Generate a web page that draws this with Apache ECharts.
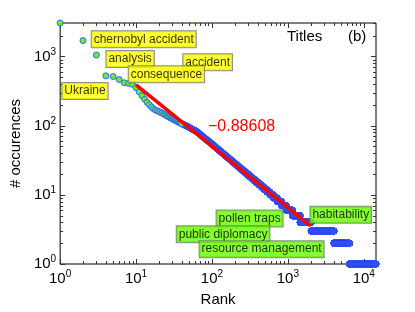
<!DOCTYPE html>
<html><head><meta charset="utf-8">
<script src="https://cdn.jsdelivr.net/npm/echarts@6/dist/echarts.min.js"></script>
<style>html,body{margin:0;padding:0;background:#fff}#c{width:415px;height:312px}</style>
</head><body><div id="c"></div>
<script>
// ---- data ----
// occurrence counts of the 60 top-ranked titles (rank 1..60)
const topCounts = [3050,1700,1050,525,513,465,417,408,395,355,308,270,240,217,200,186,175,168,164,160,
  156,152,148,144,140,137,134,131,128,125,123,121,119,117,115,113,111,110,108,107,
  105,104,103,102,100,99,98,97,96,95,93,92,91,90,89,88,87,86,86,85];
// below rank 60: each count value and the last rank that has that count
const runCounts = [84,83,82,81,80,79,78,77,76,75,74,73,72,71,70,69,68,67,66,65,64,63,62,61,60,
  59,58,57,56,55,54,53,52,51,50,49,48,47,46,45,44,43,42,41,40,39,38,37,36,35,34,33,32,31,30,
  29,28,27,26,25,24,23,22,21,20,19,18,17,16,15,14,13,12,11,10,9,8,7,6,5,4,3,2,1];
const runLastRank = [61,62,63,64,65,66,67,68,69,70,71,72,73,74,75,76,78,79,80,82,83,85,86,88,90,
  91,93,95,97,99,101,103,105,107,110,112,115,117,120,123,126,129,133,136,140,144,148,152,157,162,167,173,179,185,192,
  199,207,215,224,234,245,256,269,284,300,317,336,358,383,412,444,482,528,581,645,725,825,950,1150,1450,2030,4050,6500,14500];
const greenRanks = 40;            // top-ranked points drawn with green face
const fitLine = [[10, 390], [2000, 3.55]];   // power-law fit, slope -0.88608
const fitLabel = '\u22120.88608';
const xMajorTicks = [1, 10, 100, 1000, 10000];
const yMajorTicks = [1, 10, 100, 1000];
const minorSteps = [2, 3, 4, 5, 6, 7, 8, 9];
const xMax = 14500, yMax = 3050;
const yellowNotes = ['chernobyl accident', 'analysis', 'accident', 'consequence', 'Ukraine'];
const yellowRank  = [2.94, 4.60, 47.3, 9.04, 1.206];
const yellowCount = [2313, 1202, 1079, 721, 413];
const greenNotes = ['pollen traps', 'habitability', 'public diplomacy', 'resource management'];
const greenRank  = [130, 2240, 38.8, 77.6];
const greenCount = [5.92, 6.75, 3.50, 2.14];

// ---- build series data ----
const ptsGreen = [], ptsBlue = [];
topCounts.forEach((c, i) => { (i + 1 <= greenRanks ? ptsGreen : ptsBlue).push([i + 1, c]); });
let r = topCounts.length;
runCounts.forEach((c, k) => {
  for (; r < runLastRank[k]; ) { r++; ptsBlue.push([r, c]); }
});
const tickData = [];
xMajorTicks.forEach(v => {
  tickData.push([v, 1, 1]);
  minorSteps.forEach(m => { if (v * m <= xMax) tickData.push([v * m, 1, 0]); });
});
yMajorTicks.forEach(v => {
  tickData.push([1, v, 3]);
  minorSteps.forEach(m => { if (v * m <= yMax) tickData.push([1, v * m, 2]); });
});
const noteData = [];
yellowNotes.forEach((t, i) => noteData.push({ value: [yellowRank[i], yellowCount[i]], name: t, label: { backgroundColor: '#ffff00' } }));
greenNotes.forEach((t, i) => noteData.push({ value: [greenRank[i], greenCount[i]], name: t, label: { backgroundColor: '#66ff00' } }));

const FONT = '"Liberation Sans", Arial, Helvetica, sans-serif';
const isPow = v => Math.abs(Math.log10(v) - Math.round(Math.log10(v))) < 1e-6;
const fmt = v => isPow(v) ? '{b|10}{s|' + Math.round(Math.log10(v)) + '}' : '';
const rich = { b: { fontSize: 15, color: '#000', fontFamily: FONT }, s: { fontSize: 10, color: '#000', fontFamily: FONT, padding: [0, 0, 9, 0] } };

const chart = echarts.init(document.getElementById('c'), null, { renderer: 'canvas' });
chart.setOption({
  animation: false,
  backgroundColor: '#fff',
  textStyle: { fontFamily: FONT },
  grid: { left: 54, top: 23, width: 322, height: 245, show: true, borderColor: '#000', borderWidth: 1, backgroundColor: '#fff' },
  xAxis: {
    type: 'log', min: 1, max: xMax,
    name: 'Rank', nameLocation: 'middle', nameGap: 28,
    nameTextStyle: { fontSize: 15, color: '#000', fontFamily: FONT },
    axisLine: { show: false }, axisTick: { show: false }, splitLine: { show: false },
    axisLabel: { formatter: fmt, rich: rich, margin: 5, color: '#000' }
  },
  yAxis: {
    type: 'log', min: 1, max: yMax,
    name: '# occurences', nameLocation: 'middle', nameGap: 28,
    nameTextStyle: { fontSize: 15, color: '#000', fontFamily: FONT },
    axisLine: { show: false }, axisTick: { show: false }, splitLine: { show: false },
    axisLabel: { formatter: fmt, rich: rich, margin: 4, color: '#000' }
  },
  graphic: [
    { type: 'text', left: 287, top: 29, style: { text: 'Titles', fill: '#000', font: '15px ' + FONT } },
    { type: 'text', left: 348, top: 29, style: { text: '(b)', fill: '#000', font: '15px ' + FONT } },
    { type: 'text', left: 208, top: 119, style: { text: fitLabel, fill: '#ff0000', font: '16px ' + FONT } }
  ],
  series: [
    { type: 'custom', coordinateSystem: 'cartesian2d', data: tickData, clip: false, silent: true, z: 1,
      renderItem: function (params, api) {
        const cs = params.coordSys;
        const kind = api.value(2);
        const len = (kind % 2 === 1) ? 5 : 3;
        const st = { stroke: '#333', lineWidth: 1 };
        if (kind < 2) {
          const px = Math.round(api.coord([api.value(0), 1])[0]) + 0.5;
          const yb = cs.y + cs.height, yt = cs.y;
          return { type: 'group', children: [
            { type: 'line', shape: { x1: px, y1: yb, x2: px, y2: yb - len }, style: st },
            { type: 'line', shape: { x1: px, y1: yt, x2: px, y2: yt + len }, style: st } ] };
        } else {
          const py = Math.round(api.coord([1, api.value(1)])[1]) + 0.5;
          const xl = cs.x, xr = cs.x + cs.width;
          return { type: 'group', children: [
            { type: 'line', shape: { x1: xl, y1: py, x2: xl + len, y2: py }, style: st },
            { type: 'line', shape: { x1: xr, y1: py, x2: xr - len, y2: py }, style: st } ] };
        }
      } },
    { type: 'scatter', data: ptsBlue, symbol: 'circle', symbolSize: 6, clip: false, progressive: 0, large: false,
      itemStyle: { color: '#3050f0', borderColor: '#3050f0', borderWidth: 1, opacity: 1 }, z: 2, silent: true },
    { type: 'scatter', data: ptsGreen, symbol: 'circle', symbolSize: 6, clip: false, progressive: 0,
      itemStyle: { color: '#66ee33', borderColor: '#3366ff', borderWidth: 1, opacity: 1 }, z: 3, silent: true },
    { type: 'line', data: fitLine, symbol: 'none', lineStyle: { color: '#ff0000', width: 3.5 }, z: 4, silent: true },
    { type: 'scatter', data: noteData, symbolSize: 0, clip: false, z: 5, silent: true,
      label: { show: true, position: [0, 0], offset: [-4, 0], align: 'left', verticalAlign: 'top',
        formatter: p => p.data.name, color: '#000', fontSize: 12, fontFamily: FONT,
        borderColor: '#707070', borderWidth: 1, padding: [1, 2, 1, 2], lineHeight: 14 },
      itemStyle: { color: 'transparent' } }
  ]
});
</script></body></html>
